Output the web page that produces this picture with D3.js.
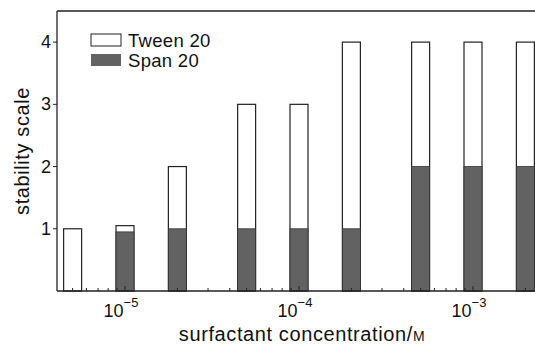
<!DOCTYPE html>
<html>
<head>
<meta charset="utf-8">
<script src="https://cdn.jsdelivr.net/npm/d3@7"></script>
<style>
  body { margin: 0; background: #fff; }
  svg text { font-family: "Liberation Sans", Arial, sans-serif; fill: #111; }
</style>
</head>
<body>
<div id="viz"></div>
<script>

// surfactant concentrations (M) and stability scale values
var concentrations = [5e-6, 1e-5, 2e-5, 5e-5, 1e-4, 2e-4, 5e-4, 1e-3, 2e-3];
var tween20 = [1, 1.05, 2, 3, 3, 4, 4, 4, 4];
var span20  = [0, 0.95, 1, 1, 1, 1, 2, 2, 2];
var yTicks = [1, 2, 3, 4];
var xTicks = [1e-5, 1e-4, 1e-3];
var xTickExp = ["\u22125", "\u22124", "\u22123"];
var legendLabels = ["Tween 20", "Span 20"];

var W = 535, H = 345;
var plotLeft = 57, plotTop = 11, plotBottom = 291;
var barW = 18;
var grey = "#626262";

var svg = d3.select("#viz")
    .append("svg")
    .attr("width", W)
    .attr("height", H);

// log x scale: 10^-5 at 125px, one decade ~174px
var x = d3.scaleLog()
    .domain([1e-5, 1e-3])
    .range([125, 473]);

var y = d3.scaleLinear()
    .domain([0, 4.5])
    .range([plotBottom, plotTop]);

var data = concentrations.map(function(c, i){
    return {c: c, tween: tween20[i], span: span20[i]};
});

// bars: white Tween bar, grey Span bar drawn over its base
var g = svg.append("g");

g.selectAll("rect.tween")
    .data(data)
    .enter()
    .append("rect")
    .attr("class", "tween")
    .attr("x", function(d){ return x(d.c) - barW / 2; })
    .attr("y", function(d){ return y(d.tween); })
    .attr("width", barW)
    .attr("height", function(d){ return y(0) - y(d.tween); })
    .style("fill", "#fff")
    .style("stroke", "#222")
    .style("stroke-width", 1.2);

g.selectAll("rect.span")
    .data(data.filter(function(d){ return d.span > 0; }))
    .enter()
    .append("rect")
    .attr("class", "span")
    .attr("x", function(d){ return x(d.c) - barW / 2; })
    .attr("y", function(d){ return y(d.span); })
    .attr("width", barW)
    .attr("height", function(d){ return y(0) - y(d.span); })
    .style("fill", grey)
    .style("stroke", "#333")
    .style("stroke-width", 0.8);

// frame lines
svg.append("line")
    .attr("x1", plotLeft).attr("x2", W)
    .attr("y1", plotTop).attr("y2", plotTop)
    .style("stroke", "#222").style("stroke-width", 1.3);
svg.append("line")
    .attr("x1", plotLeft).attr("x2", plotLeft)
    .attr("y1", plotTop).attr("y2", plotBottom)
    .style("stroke", "#222").style("stroke-width", 1.3);
svg.append("line")
    .attr("x1", plotLeft).attr("x2", W)
    .attr("y1", plotBottom).attr("y2", plotBottom)
    .style("stroke", "#222").style("stroke-width", 1.3);

// y ticks
svg.selectAll("line.ytick")
    .data(yTicks)
    .enter()
    .append("line")
    .attr("x1", plotLeft - 4).attr("x2", plotLeft)
    .attr("y1", function(d){ return y(d); })
    .attr("y2", function(d){ return y(d); })
    .style("stroke", "#222");

svg.selectAll("text.ylab")
    .data(yTicks)
    .enter()
    .append("text")
    .attr("x", plotLeft - 6)
    .attr("y", function(d){ return y(d) + 6; })
    .attr("text-anchor", "end")
    .style("font-size", "18px")
    .text(function(d){ return d; });

// x minor ticks (log)
var minor = [];
[1e-6, 1e-5, 1e-4, 1e-3].forEach(function(dec){
    for (var k = 1; k <= 9; k++) minor.push(dec * k);
});
minor = minor.filter(function(v){ return x(v) > plotLeft + 1 && x(v) < W; });

svg.selectAll("line.xminor")
    .data(minor)
    .enter()
    .append("line")
    .attr("x1", function(d){ return x(d); })
    .attr("x2", function(d){ return x(d); })
    .attr("y1", plotBottom)
    .attr("y2", function(d){
        return xTicks.some(function(t){ return Math.abs(t - d) < d * 1e-6; }) ? plotBottom - 5 : plotBottom - 3;
    })
    .style("stroke", "#222");

// x tick labels 10^n
var xl = svg.selectAll("text.xlab")
    .data(xTicks)
    .enter()
    .append("text")
    .attr("x", function(d){ return x(d) - 4; })
    .attr("y", 317)
    .attr("text-anchor", "middle")
    .style("font-size", "18px");
xl.append("tspan").text("10");
xl.append("tspan")
    .attr("dy", -10)
    .style("font-size", "13px")
    .text(function(d, i){ return xTickExp[i]; });

// axis titles
var xt = svg.append("text")
    .attr("x", 302)
    .attr("y", 341)
    .attr("text-anchor", "middle")
    .style("font-size", "20px")
    .style("letter-spacing", "0.6px")
    .text("surfactant concentration/");
xt.append("tspan").style("font-size", "14px").text("M");

svg.append("text")
    .attr("transform", "translate(29,151) rotate(-90)")
    .attr("text-anchor", "middle")
    .style("font-size", "20px")
    .style("letter-spacing", "0.6px")
    .text("stability scale");

// legend
var legend = svg.selectAll("g.legend")
    .data(legendLabels)
    .enter()
    .append("g")
    .attr("transform", function(d, i){ return "translate(91," + (34 + i * 20) + ")"; });

legend.append("rect")
    .attr("width", 30)
    .attr("height", 12)
    .style("fill", function(d, i){ return i === 0 ? "#fff" : grey; })
    .style("stroke", function(d, i){ return i === 0 ? "#222" : "none"; });

legend.append("text")
    .attr("x", 37)
    .attr("y", 13)
    .style("font-size", "18.5px")
    .style("letter-spacing", "0.3px")
    .text(function(d){ return d; });

</script>
</body>
</html>
